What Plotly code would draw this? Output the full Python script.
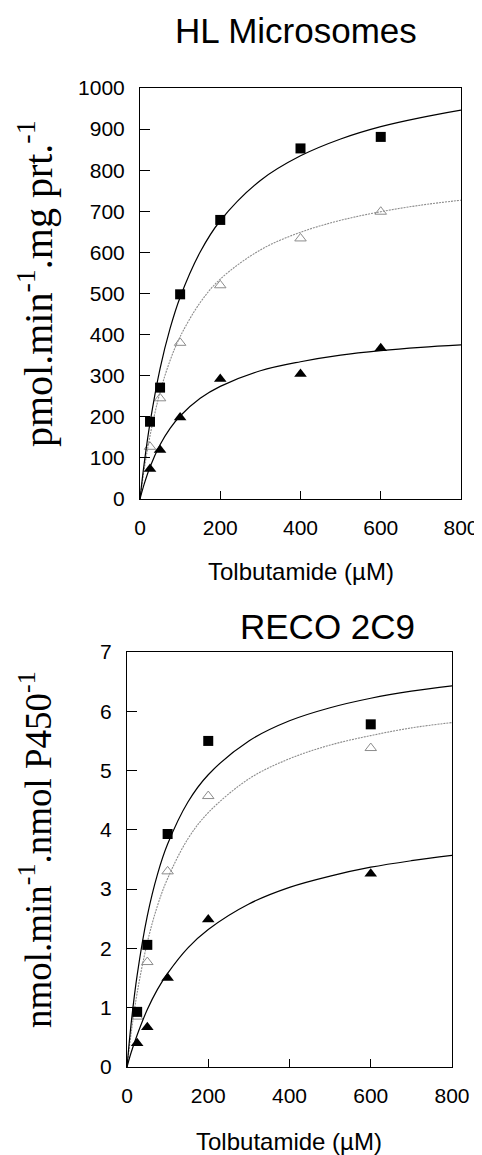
import plotly.graph_objects as go

# ---------------- data ----------------
conc = [25, 50, 100, 200, 400, 600]          # Tolbutamide (µM)

# HL microsomes (pmol/min/mg protein)
hl_square = [188, 271, 498, 679, 853, 881]
hl_open_tri = [127, 245, 380, 520, 634, 699]
hl_filled_tri = [73, 119, 198, 292, 304, 367]

# RECO 2C9 (nmol/min/nmol P450)
reco_conc = [25, 50, 100, 200, 600]
reco_square = [0.93, 2.06, 3.93, 5.50, 5.78]
reco_open_tri = [0.85, 1.77, 3.30, 4.57, 5.38]
reco_filled_tri = [0.40, 0.67, 1.50, 2.49, 3.26]

# fitted curves at these concentrations
curve_x = [0, 10, 25, 50, 75, 100, 150, 200, 300, 400, 500, 600, 700, 800]
hl_square_fit = [0, 83, 185, 317, 415, 491, 601, 677, 775, 835, 876, 906, 928, 946]
hl_open_fit = [0, 69, 154, 260, 337, 395, 478, 535, 606, 649, 678, 699, 715, 727]
hl_filled_fit = [0, 35, 78, 132, 172, 202, 245, 274, 312, 334, 350, 361, 369, 375]
reco_square_fit = [0, 0.72, 1.55, 2.55, 3.25, 3.76, 4.47, 4.93, 5.50, 5.84, 6.06, 6.22, 6.34, 6.43]
reco_open_fit = [0, 0.56, 1.25, 2.10, 2.72, 3.18, 3.85, 4.29, 4.86, 5.20, 5.43, 5.59, 5.72, 5.81]
reco_filled_fit = [0, 0.24, 0.54, 0.97, 1.31, 1.58, 2.01, 2.32, 2.75, 3.03, 3.22, 3.37, 3.48, 3.57]

x_ticks = [0, 200, 400, 600, 800]
hl_y_ticks = list(range(0, 1001, 100))
reco_y_ticks = list(range(0, 8))

# ---------------- layout helpers ----------------
W, H = 482, 1155
OFF = 8  # the page body has an 8px margin; positions below are window pixels
def px(x):
    return (x - OFF) / W
def py(y):
    return 1 - (y - OFF) / H

BLACK = "#000000"
GRAY = "#8c8c8c"
SANS = "Liberation Sans, Arial, Helvetica, sans-serif"
SERIF = "Liberation Serif, Times New Roman, serif"

fig = go.Figure()

def add_panel(xa, ya, xs_pts, sq, op, fi, fits):
    sq_fit, op_fit, fi_fit = fits
    # gray dotted curve + open triangles
    fig.add_trace(go.Scatter(x=curve_x, y=op_fit, mode="lines", line=dict(color=GRAY, width=1.1, dash="2px,1px", shape="spline"),
                             xaxis=xa, yaxis=ya, showlegend=False, hoverinfo="skip"))
    fig.add_trace(go.Scatter(x=xs_pts, y=op, mode="markers",
                             marker=dict(symbol="triangle-up-open", size=10, color=GRAY, line=dict(width=1, color=GRAY)),
                             xaxis=xa, yaxis=ya, showlegend=False))
    # black curves
    for f in (sq_fit, fi_fit):
        fig.add_trace(go.Scatter(x=curve_x, y=f, mode="lines", line=dict(color=BLACK, width=1.2, shape="spline"),
                                 xaxis=xa, yaxis=ya, showlegend=False, hoverinfo="skip"))
    fig.add_trace(go.Scatter(x=xs_pts, y=sq, mode="markers",
                             marker=dict(symbol="square", size=10, color=BLACK),
                             xaxis=xa, yaxis=ya, showlegend=False))
    fig.add_trace(go.Scatter(x=xs_pts, y=fi, mode="markers",
                             marker=dict(symbol="triangle-up", size=11, color=BLACK),
                             xaxis=xa, yaxis=ya, showlegend=False))

add_panel("x", "y", conc, hl_square, hl_open_tri, hl_filled_tri, (hl_square_fit, hl_open_fit, hl_filled_fit))
add_panel("x2", "y2", reco_conc, reco_square, reco_open_tri, reco_filled_tri, (reco_square_fit, reco_open_fit, reco_filled_fit))

tickfont = dict(family=SANS, size=21, color=BLACK)
common_x = dict(range=[0, 800], tickvals=x_ticks, ticks="inside", ticklen=8, tickcolor=BLACK, tickwidth=1,
                showline=True, linecolor=BLACK, linewidth=1, mirror=True, showgrid=False, zeroline=False,
                tickfont=tickfont, ticklabelstandoff=10, automargin=False)
common_y = dict(ticks="inside", ticklen=10, tickcolor=BLACK, tickwidth=1,
                showline=True, linecolor=BLACK, linewidth=1, mirror=True, showgrid=False, zeroline=False,
                tickfont=tickfont, ticklabelstandoff=10, automargin=False)

fig.update_layout(
    width=W, height=H,
    margin=dict(l=0, r=0, t=0, b=0, autoexpand=False),
    paper_bgcolor="white", plot_bgcolor="white",
    xaxis=dict(domain=[px(140), px(461)], anchor="y", **common_x),
    yaxis=dict(domain=[py(499), py(88)], anchor="x", range=[0, 1000], tickvals=hl_y_ticks, **common_y),
    xaxis2=dict(domain=[px(127), px(452)], anchor="y2", **common_x),
    yaxis2=dict(domain=[py(1067), py(652)], anchor="x2", range=[0, 7], tickvals=reco_y_ticks, **common_y),
)

ann = [
    dict(text="HL Microsomes", x=px(296), y=py(30), font=dict(family=SANS, size=35, color=BLACK)),
    dict(text="RECO 2C9", x=px(327), y=py(626), font=dict(family=SANS, size=35, color=BLACK)),
    dict(text="Tolbutamide (µM)", x=px(301), y=py(572), font=dict(family=SANS, size=24, color=BLACK)),
    dict(text="Tolbutamide (µM)", x=px(289), y=py(1141), font=dict(family=SANS, size=24, color=BLACK)),
    dict(text="pmol.min<sup>-1</sup>.mg prt.<sup>-1</sup>", x=px(36), y=py(284), textangle=-90,
         font=dict(family=SERIF, size=40, color=BLACK)),
    dict(text="nmol.min<sup>-1</sup>.nmol P450<sup>-1</sup>", x=px(35), y=py(850), textangle=-90,
         font=dict(family=SERIF, size=37, color=BLACK)),
]
for a in ann:
    fig.add_annotation(xref="paper", yref="paper", xanchor="center", yanchor="middle", showarrow=False, **a)

fig.write_html("out.html")
